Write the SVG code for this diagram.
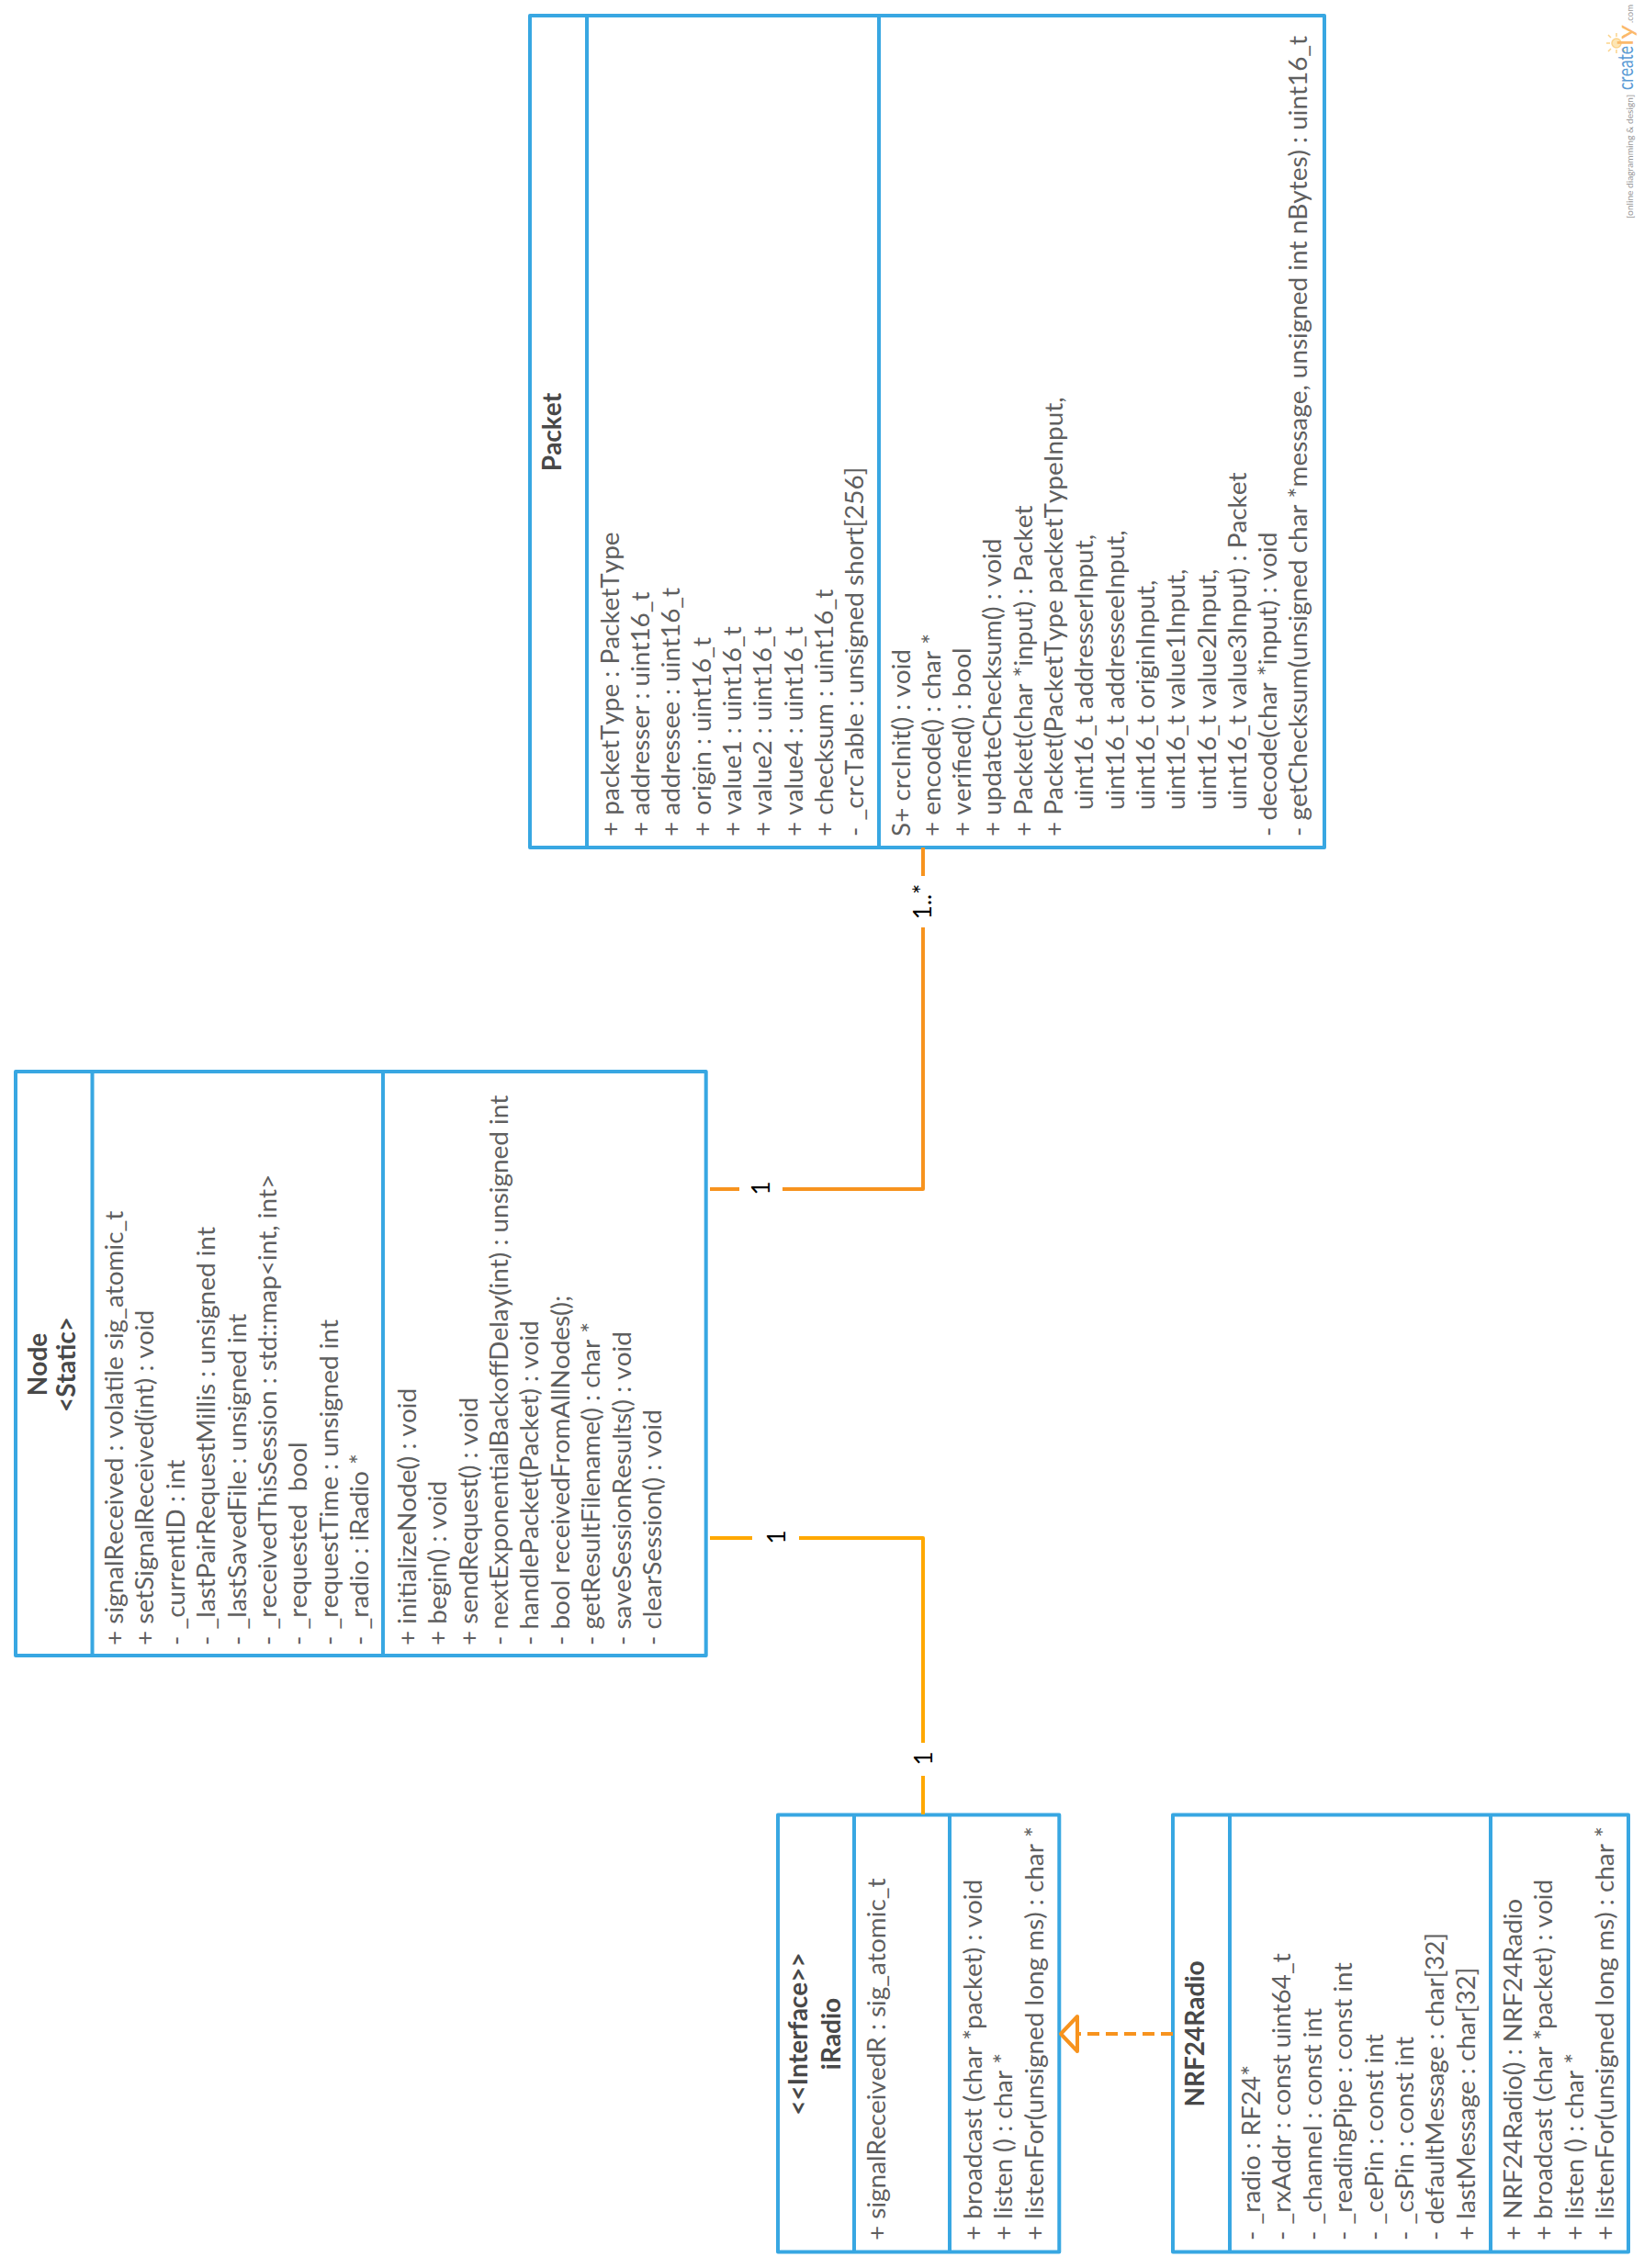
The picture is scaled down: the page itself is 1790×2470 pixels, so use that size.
<svg xmlns="http://www.w3.org/2000/svg" width="1790" height="2470" viewBox="0 0 1790 2470">
<style>
text{font-family:Lato,"Open Sans","Liberation Sans",sans-serif;font-size:27.900px;font-weight:400;fill:#5f5f5f;white-space:pre;font-kerning:none}
.t{font-size:28px;font-weight:700;fill:#484848;text-anchor:middle}
.b{fill:#fff;stroke:#38a7e2;stroke-width:4;stroke-linejoin:round}
.d{stroke:#38a7e2;stroke-width:4;fill:none}
.c{fill:none;stroke-width:4;stroke-linejoin:round}
.l{font-size:26px;font-weight:400;fill:#000;text-anchor:middle}
</style>
<rect width="1790" height="2470" fill="#fff"/>
<g id="packet">
<rect class="b" x="577" y="17" width="865" height="906"/>
<path class="d" d="M639 17V923M957 17V923"/>
<text class="t" transform="translate(610.5 470.5) rotate(-90)">Packet</text>
<text transform="translate(673.7 911) rotate(-90)">+ packetType : PacketType</text>
<text transform="translate(707 911) rotate(-90)">+ addresser : uint16_t</text>
<text transform="translate(740.3 911) rotate(-90)">+ addressee : uint16_t</text>
<text transform="translate(773.6 911) rotate(-90)">+ origin : uint16_t</text>
<text transform="translate(806.9 911) rotate(-90)">+ value1 : uint16_t</text>
<text transform="translate(840.2 911) rotate(-90)">+ value2 : uint16_t</text>
<text transform="translate(873.5 911) rotate(-90)">+ value4 : uint16_t</text>
<text transform="translate(906.8 911) rotate(-90)">+ checksum : uint16_t</text>
<text transform="translate(940 911) rotate(-90)">- _crcTable : unsigned short[256]</text>
<text transform="translate(990.5 911) rotate(-90)">S+ crcInit() : void</text>
<text transform="translate(1023.8 911) rotate(-90)">+ encode() : char *</text>
<text transform="translate(1057.1 911) rotate(-90)">+ verified() : bool</text>
<text transform="translate(1090.4 911) rotate(-90)">+ updateChecksum() : void</text>
<text transform="translate(1123.7 911) rotate(-90)">+ Packet(char *input) : Packet</text>
<text transform="translate(1157 911) rotate(-90)">+ Packet(PacketType packetTypeInput,</text>
<text transform="translate(1190.3 882) rotate(-90)">uint16_t addresserInput,</text>
<text transform="translate(1223.6 882) rotate(-90)">uint16_t addresseeInput,</text>
<text transform="translate(1256.9 882) rotate(-90)">uint16_t originInput,</text>
<text transform="translate(1290.2 882) rotate(-90)">uint16_t value1Input,</text>
<text transform="translate(1323.5 882) rotate(-90)">uint16_t value2Input,</text>
<text transform="translate(1356.8 882) rotate(-90)">uint16_t value3Input) : Packet</text>
<text transform="translate(1390.1 911) rotate(-90)">- decode(char *input) : void</text>
<text transform="translate(1423.4 911) rotate(-90)">- getChecksum(unsigned char *message, unsigned int nBytes) : uint16_t</text>
</g>
<g id="node">
<rect class="b" x="17" y="1167" width="751.700" height="636"/>
<path class="d" d="M100.500 1167V1803M417 1167V1803"/>
<text class="t" transform="translate(51 1486) rotate(-90)">Node</text>
<text class="t" transform="translate(82 1486) rotate(-90)">&lt;Static&gt;</text>
<text transform="translate(134 1792) rotate(-90)">+ signalReceived : volatile sig_atomic_t</text>
<text transform="translate(167.400 1792) rotate(-90)">+ setSignalReceived(int) : void</text>
<text transform="translate(200.800 1792) rotate(-90)">- _currentID : int</text>
<text transform="translate(234.200 1792) rotate(-90)">- _lastPairRequestMillis : unsigned int</text>
<text transform="translate(267.600 1792) rotate(-90)">- _lastSavedFile : unsigned int</text>
<text transform="translate(301 1792) rotate(-90)">- _receivedThisSession : std::map&lt;int, int&gt;</text>
<text transform="translate(334.400 1792) rotate(-90)">- _requested  bool</text>
<text transform="translate(367.800 1792) rotate(-90)">- _requestTime : unsigned int</text>
<text transform="translate(401.200 1792) rotate(-90)">- _radio : iRadio *</text>
<text transform="translate(452.700 1792) rotate(-90)">+ initializeNode() : void</text>
<text transform="translate(486.100 1792) rotate(-90)">+ begin() : void</text>
<text transform="translate(519.500 1792) rotate(-90)">+ sendRequest() : void</text>
<text transform="translate(552.900 1792) rotate(-90)">- nextExponentialBackoffDelay(int) : unsigned int</text>
<text transform="translate(586.300 1792) rotate(-90)">- handlePacket(Packet) : void</text>
<text transform="translate(619.700 1792) rotate(-90)">- bool receivedFromAllNodes();</text>
<text transform="translate(653.100 1792) rotate(-90)">- getResultFilename() : char *</text>
<text transform="translate(686.500 1792) rotate(-90)">- saveSessionResults() : void</text>
<text transform="translate(719.900 1792) rotate(-90)">- clearSession() : void</text>
</g>
<g id="iradio">
<rect class="b" x="847" y="1976.500" width="306.300" height="476"/>
<path class="d" d="M930 1976.500V2452.500M1034 1976.500V2452.500"/>
<text class="t" transform="translate(879 2215) rotate(-90)">&lt;&lt;Interface&gt;&gt;</text>
<text class="t" transform="translate(914.500 2215) rotate(-90)">iRadio</text>
<text transform="translate(963.500 2440) rotate(-90)">+ signalReceivedR : sig_atomic_t</text>
<text transform="translate(1069 2440) rotate(-90)">+ broadcast (char *packet) : void</text>
<text transform="translate(1102.400 2440) rotate(-90)">+ listen () : char *</text>
<text transform="translate(1135.800 2440) rotate(-90)">+ listenFor(unsigned long ms) : char *</text>
</g>
<g id="nrf24radio">
<rect class="b" x="1277" y="1976.500" width="496" height="476"/>
<path class="d" d="M1339 1976.500V2452.500M1623 1976.500V2452.500"/>
<text class="t" transform="translate(1310.700 2215) rotate(-90)">NRF24Radio</text>
<text transform="translate(1372 2440) rotate(-90)">- _radio : RF24*</text>
<text transform="translate(1405.400 2440) rotate(-90)">- _rxAddr : const uint64_t</text>
<text transform="translate(1438.800 2440) rotate(-90)">- _channel : const int</text>
<text transform="translate(1472.200 2440) rotate(-90)">- _readingPipe : const int</text>
<text transform="translate(1505.600 2440) rotate(-90)">- _cePin : const int</text>
<text transform="translate(1539 2440) rotate(-90)">- _csPin : const int</text>
<text transform="translate(1572.400 2440) rotate(-90)">- defaultMessage : char[32]</text>
<text transform="translate(1605.800 2440) rotate(-90)">+ lastMessage : char[32]</text>
<text transform="translate(1656.700 2440) rotate(-90)">+ NRF24Radio() : NRF24Radio</text>
<text transform="translate(1690.100 2440) rotate(-90)">+ broadcast (char *packet) : void</text>
<text transform="translate(1723.500 2440) rotate(-90)">+ listen () : char *</text>
<text transform="translate(1756.900 2440) rotate(-90)">+ listenFor(unsigned long ms) : char *</text>
</g>
<g id="connectors">
<path class="c" stroke="#f7931e" d="M1005 923V954M1005 1010V1295H852M805 1295H773"/>
<path class="c" stroke="#ffa800" d="M1005 1976V1934M1005 1898V1675H870M819 1675H773"/>
<path class="c" stroke="#f7931e" stroke-dasharray="13 7" d="M1277 2215H1173"/>
<path class="c" stroke="#f7931e" d="M1173 2196V2234L1155 2215Z"/>
<text class="l" transform="translate(1014 982) rotate(-90)">1..*</text>
<text class="l" transform="translate(837.500 1294) rotate(-90)">1</text>
<text class="l" transform="translate(855 1674) rotate(-90)">1</text>
<text class="l" transform="translate(1015 1915) rotate(-90)">1</text>
</g>
<g id="logo">
<g fill="none" stroke="#fbd38a" stroke-width="1.500">
<circle cx="1760" cy="47" r="5" fill="#fde6b5"/>
<path d="M1760 40V36M1760 54V58M1753 47H1749M1754 41L1751 38M1754 53L1751 56M1766 41L1769 38M1766 53L1769 56"/>
</g>
<text transform="translate(1778 98) rotate(-90)" style="font-size:24px;font-weight:400;fill:#5b9bd5" textLength="48" lengthAdjust="spacingAndGlyphs">create</text>
<text transform="translate(1778 50) rotate(-90)" style="font-size:24px;font-weight:400;fill:#fbb96b" textLength="23" lengthAdjust="spacingAndGlyphs">ly</text>
<text transform="translate(1778 25) rotate(-90)" style="font-size:9px;font-weight:400;fill:#999" textLength="20" lengthAdjust="spacingAndGlyphs">.com</text>
<text transform="translate(1778 238) rotate(-90)" style="font-size:9.500px;font-weight:400;fill:#999" textLength="135" lengthAdjust="spacingAndGlyphs">[online diagramming &amp; design]</text>
</g>
</svg>
